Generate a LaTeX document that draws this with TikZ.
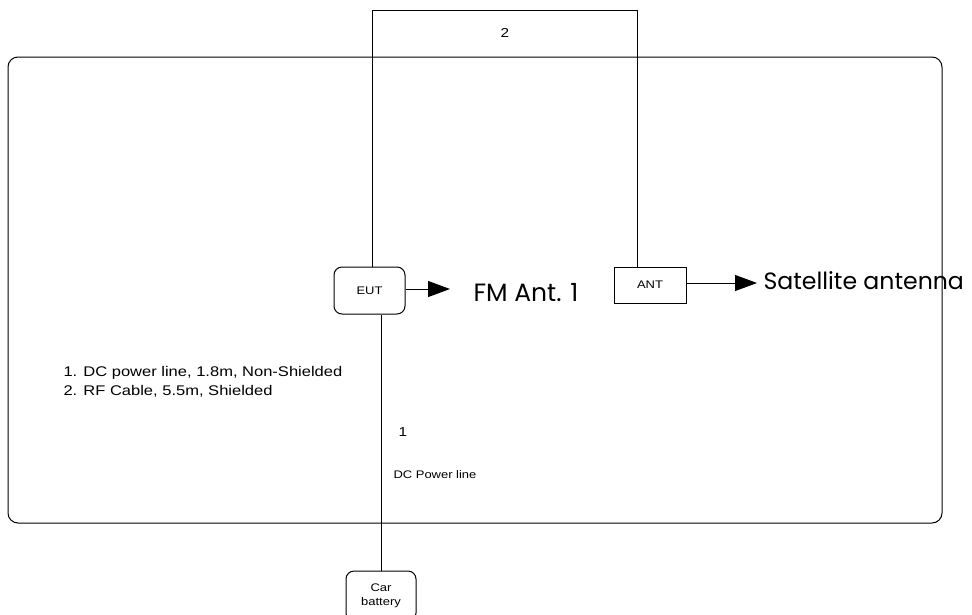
\documentclass[tikz,border=0pt]{standalone}
\usepackage{fontspec}
\setmainfont[FakeStretch=1.18]{Liberation Sans}
\newfontfamily\geofont{Poppins}
\usetikzlibrary{arrows.meta}
\begin{document}
\begin{tikzpicture}[x=1pt,y=-1pt,
  line width=1pt,
  box/.style={draw,inner sep=0pt,align=center},
  lbl/.style={inner sep=0pt,anchor=west},
  bigarrow/.style={-{Triangle[length=22pt,width=16pt]}}]
\useasboundingbox (0,0) rectangle (972,614);
\draw[rounded corners=10pt] (8,57) rectangle (942,523);
\node[box,rounded corners=8pt,minimum width=71pt,minimum height=47pt,font=\fontsize{11}{13}\selectfont] (eut) at (369.5,290.5) {EUT};
\node[box,minimum width=72pt,minimum height=36pt,font=\fontsize{11}{13}\selectfont] (ant) at (650,285) {ANT};
\node[box,rounded corners=8pt,minimum width=70pt,minimum height=50pt,font=\fontsize{11}{14}\selectfont] (car) at (381,596) {Car\\battery};
\coordinate (t1) at (372,10);
\coordinate (t2) at (637,10);
\draw (t1 |- eut.north) -- (t1) -- (t2) -- (t2 |- ant.north);
\draw (car.north) -- (car.north |- eut.south);
\coordinate (fmtip) at (450,289);
\coordinate (sattip) at (757,283);
\draw[bigarrow] (eut.east |- fmtip) -- (fmtip);
\draw[bigarrow] (ant.east |- sattip) -- (sattip);
\node[lbl,font=\geofont\fontsize{25}{29}\selectfont] (fm) at (473,293) {FM Ant. 1};
\node[lbl,font=\geofont\fontsize{23.6}{28}\selectfont] (sat) at (763,281) {Satellite antenna};
\node[font=\fontsize{13}{15}\selectfont] (n2) at (505,33) {2};
\node[font=\fontsize{13}{15}\selectfont] (n1) at (403,432) {1};
\node[lbl,font=\fontsize{11}{13}\selectfont] (dcp) at (393,475) {DC Power line};
\node[lbl,font=\fontsize{14}{16}\selectfont] (leg1) at (63,373) {1. DC power line, 1.8m, Non-Shielded};
\node[lbl,font=\fontsize{14}{16}\selectfont] (leg2) at (63,391) {2. RF Cable, 5.5m, Shielded};
\end{tikzpicture}
\end{document}
